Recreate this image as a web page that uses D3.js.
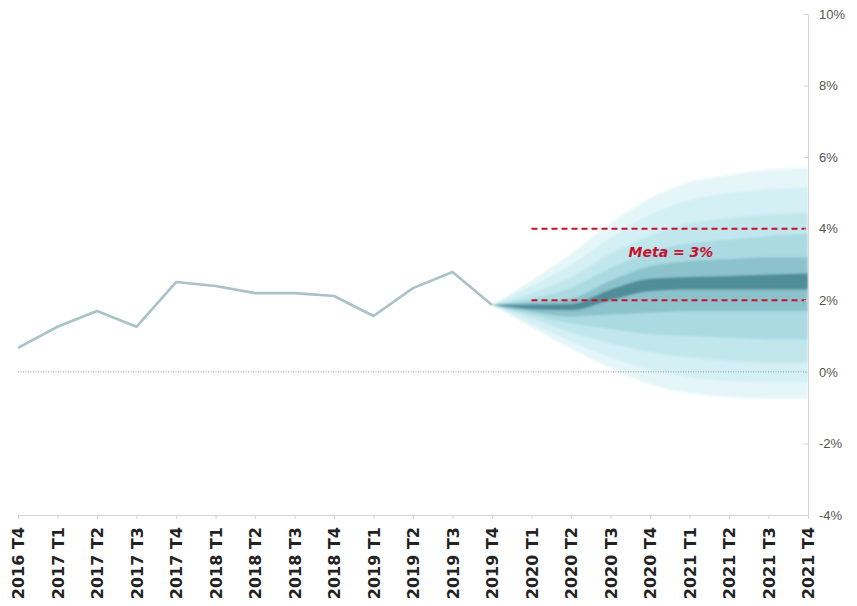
<!DOCTYPE html>
<html>
<head>
<meta charset="utf-8">
<script src="https://cdn.jsdelivr.net/npm/d3@7"></script>
<style>
  html, body { margin: 0; padding: 0; background: #fff; }
  svg { display: block; font-family: "Liberation Sans", Arial, sans-serif; }
</style>
</head>
<body>
<svg id="chart" width="857" height="606"></svg>
<script>
// ---- Data ----
const categories = ["2016 T4","2017 T1","2017 T2","2017 T3","2017 T4","2018 T1","2018 T2","2018 T3","2018 T4",
  "2019 T1","2019 T2","2019 T3","2019 T4","2020 T1","2020 T2","2020 T3","2020 T4","2021 T1","2021 T2","2021 T3","2021 T4"];
const inflation = [0.67,1.26,1.70,1.26,2.51,2.40,2.20,2.20,2.12,1.56,2.34,2.79,1.87];
const forecastCategories = ["2019 T4","2020 T1","2020 T2","2020 T3","2020 T4","2021 T1","2021 T2","2021 T3","2021 T4"];
// fan quantiles
const q95 = [1.87,2.55,3.30,4.15,4.85,5.30,5.50,5.65,5.70];
const q90 = [1.87,2.40,3.00,3.75,4.40,4.80,5.00,5.10,5.15];
const q80 = [1.87,2.20,2.65,3.30,3.80,4.15,4.30,4.40,4.45];
const q70 = [1.87,2.05,2.35,2.90,3.35,3.60,3.70,3.80,3.85];
const q60 = [1.87,1.95,2.05,2.55,2.95,3.10,3.15,3.20,3.20];
const q55 = [1.87,1.88,1.90,2.30,2.60,2.65,2.68,2.72,2.75];
const q45 = [1.87,1.75,1.72,2.00,2.25,2.30,2.30,2.30,2.30];
const q40 = [1.87,1.68,1.55,1.60,1.65,1.70,1.70,1.70,1.70];
const q30 = [1.87,1.60,1.35,1.20,1.05,1.00,0.95,0.90,0.90];
const q20 = [1.87,1.50,1.10,0.80,0.55,0.40,0.30,0.25,0.25];
const q10 = [1.87,1.35,0.85,0.40,0.05,-0.15,-0.25,-0.30,-0.30];
const q05 = [1.87,1.25,0.65,0.10,-0.35,-0.60,-0.70,-0.75,-0.75];
const targetBand = [2, 4];
const targetLabel = "Meta = 3%";
const targetStart = "2020 T1";
const yTicks = [-4,-2,0,2,4,6,8,10];

// ---- Layout ----
const svg = d3.select("#chart");
const x = d3.scalePoint(categories, [18, 808]);
const y = d3.scaleLinear([-4, 10], [515, 14]);

const defs = svg.append("defs");
defs.append("clipPath").attr("id","plotClip").append("rect")
  .attr("x", 0).attr("y", 0).attr("width", 808).attr("height", 515);
defs.append("filter").attr("id","soft").attr("x","-5%").attr("y","-5%").attr("width","110%").attr("height","110%")
  .append("feGaussianBlur").attr("stdDeviation", 1.3);

// Fan chart
const bands = [
  {lo: q05, hi: q95, color: "#e5f6f9"},
  {lo: q10, hi: q90, color: "#d4f0f4"},
  {lo: q20, hi: q80, color: "#c1e7ed"},
  {lo: q30, hi: q70, color: "#abdae2"},
  {lo: q40, hi: q60, color: "#8cc2cc"},
  {lo: q45, hi: q55, color: "#4f8d99"}
];
const fanG = svg.append("g").attr("clip-path","url(#plotClip)").append("g").attr("filter","url(#soft)");
bands.forEach(b => {
  const rows = forecastCategories.map((c,i) => ({c, lo: b.lo[i], hi: b.hi[i]}));
  fanG.append("path")
    .datum(rows)
    .attr("fill", b.color)
    .attr("d", d3.area().x(d => x(d.c)).y0(d => y(d.lo)).y1(d => y(d.hi)).curve(d3.curveMonotoneX));
});

// Zero line (dotted)
svg.append("line")
  .attr("x1", x(categories[0])).attr("x2", 808)
  .attr("y1", y(0)).attr("y2", y(0))
  .attr("stroke", "#9a9a9a").attr("stroke-width", 1).attr("stroke-dasharray", "1,1.5");

// Historical line
const hist = inflation.map((v,i) => ({c: categories[i], v}));
svg.append("path").datum(hist)
  .attr("fill","none").attr("stroke","#a9c2c6").attr("stroke-width", 2.6)
  .attr("stroke-linejoin","round")
  .attr("d", d3.line().x(d => x(d.c)).y(d => y(d.v)));

// Target band lines
targetBand.forEach(v => {
  svg.append("line")
    .attr("x1", x(targetStart)).attr("x2", 806)
    .attr("y1", y(v)).attr("y2", y(v))
    .attr("stroke", "#c8102e").attr("stroke-width", 2).attr("stroke-dasharray", "6,4");
});
svg.append("text")
  .attr("x", 671).attr("y", y(3.33))
  .attr("text-anchor","middle").attr("dominant-baseline","middle")
  .attr("font-family","'DejaVu Sans', sans-serif")
  .attr("font-size", 14).attr("font-weight","bold").attr("font-style","italic")
  .attr("fill","#c8102e").text(targetLabel);

// Right y axis
const yAxis = svg.append("g").attr("transform","translate(808,0)")
  .call(d3.axisRight(y).tickValues(yTicks).tickFormat(d => d + "%").tickSizeInner(-4).tickSizeOuter(0).tickPadding(11));
yAxis.select(".domain").attr("stroke","#d4d4d4");
yAxis.selectAll(".tick line").attr("stroke","#d4d4d4");
yAxis.selectAll("text").attr("font-size", 13).attr("fill","#555").attr("font-family","'Liberation Sans', Arial, sans-serif");

// Bottom x axis
const xAxis = svg.append("g").attr("transform","translate(0,515)")
  .call(d3.axisBottom(x).tickSizeInner(4).tickSizeOuter(0).tickPadding(10));
xAxis.select(".domain").attr("stroke","#d4d4d4");
xAxis.selectAll(".tick line").attr("stroke","#d4d4d4");
xAxis.selectAll("text")
  .attr("font-size", 16).attr("font-weight","bold").attr("fill","#222")
  .attr("font-family","'DejaVu Sans', sans-serif")
  .attr("text-anchor","end")
  .attr("transform","rotate(-90)")
  .attr("x", -12).attr("y", 0).attr("dy","0.36em");
</script>
</body>
</html>
